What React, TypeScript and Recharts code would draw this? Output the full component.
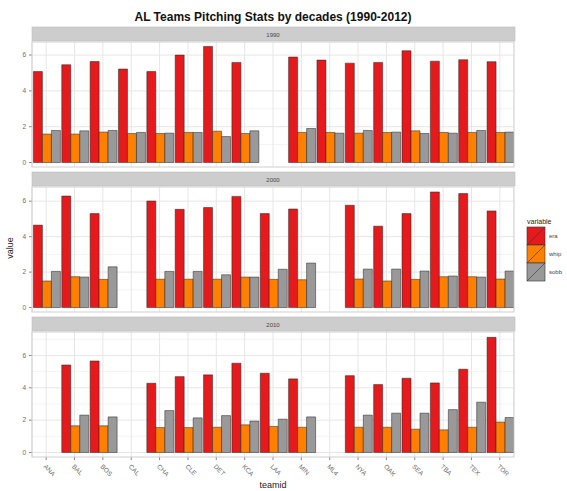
import { BarChart, Bar, XAxis, YAxis, CartesianGrid } from 'recharts';

const teams = ['ANA', 'BAL', 'BOS', 'CAL', 'CHA', 'CLE', 'DET', 'KCA', 'LAA', 'MIN', 'ML4', 'NYA', 'OAK', 'SEA', 'TBA', 'TEX', 'TOR'];

// decade averages per team, null where the team did not play that decade
const era1990 = [5.08, 5.46, 5.64, 5.22, 5.08, 6.0, 6.48, 5.59, null, 5.89, 5.72, 5.55, 5.59, 6.24, 5.66, 5.74, 5.63];
const whip1990 = [1.59, 1.59, 1.7, 1.62, 1.62, 1.68, 1.75, 1.62, null, 1.68, 1.68, 1.64, 1.68, 1.77, 1.68, 1.68, 1.68];
const sobb1990 = [1.79, 1.77, 1.79, 1.68, 1.64, 1.68, 1.45, 1.77, null, 1.9, 1.64, 1.79, 1.7, 1.62, 1.64, 1.79, 1.7];

const era2000 = [4.65, 6.29, 5.3, null, 6.01, 5.54, 5.64, 6.27, 5.3, 5.56, null, 5.77, 4.59, 5.3, 6.52, 6.43, 5.45];
const whip2000 = [1.5, 1.74, 1.59, null, 1.6, 1.6, 1.6, 1.72, 1.59, 1.57, null, 1.61, 1.5, 1.59, 1.74, 1.74, 1.61];
const sobb2000 = [2.04, 1.72, 2.3, null, 2.04, 2.04, 1.85, 1.72, 2.16, 2.51, null, 2.17, 2.17, 2.06, 1.78, 1.72, 2.06];

const era2010 = [null, 5.41, 5.66, null, 4.28, 4.69, 4.8, 5.52, 4.9, 4.55, null, 4.75, 4.2, 4.59, 4.3, 5.15, 7.12];
const whip2010 = [null, 1.65, 1.65, null, 1.54, 1.54, 1.56, 1.71, 1.61, 1.56, null, 1.56, 1.56, 1.44, 1.4, 1.56, 1.88];
const sobb2010 = [null, 2.31, 2.2, null, 2.59, 2.14, 2.28, 1.94, 2.06, 2.2, null, 2.31, 2.43, 2.43, 2.65, 3.11, 2.16];

const variables = ['era', 'whip', 'sobb'];
const yTicks = [0, 2, 4, 6];
const yMinor = [1, 3, 5, 7];

const COLORS = ['#E41A1C', '#FF7F00', '#999999'];
const FONT = '"Liberation Sans", Arial, Helvetica, sans-serif';

const PLOT_LEFT = 32;
const PLOT_RIGHT = 514;
const PLOT_H = 125;
const AXIS_H = 34;

function rows(era: (number | null)[], whip: (number | null)[], sobb: (number | null)[]) {
  return teams.map((team, i) => ({ team, era: era[i], whip: whip[i], sobb: sobb[i] }));
}

const panels = [
  { label: '1990', top: 42, domain: [-0.25, 6.73], data: rows(era1990, whip1990, sobb1990) },
  { label: '2000', top: 187, domain: [-0.25, 6.8], data: rows(era2000, whip2000, sobb2000) },
  { label: '2010', top: 332, domain: [-0.28, 7.45], data: rows(era2010, whip2010, sobb2010) },
];

function TeamTick({ x, y, payload }: any) {
  const tx = x - 3;
  const ty = y + 5;
  return (
    <text x={tx} y={ty} transform={`rotate(45 ${tx} ${ty})`} fontSize={6.5} fill="#6b6b6b" fontFamily={FONT}>
      {payload.value}
    </text>
  );
}

function Panel({ data, domain, top, last }: any) {
  return (
    <div style={{ position: 'absolute', left: 0, top, width: PLOT_RIGHT, height: PLOT_H + (last ? AXIS_H : 0) }}>
      <BarChart
        width={PLOT_RIGHT}
        height={PLOT_H + (last ? AXIS_H : 0)}
        data={data}
        margin={{ top: 0, right: 0, bottom: 0, left: 0 }}
        barCategoryGap="5%"
        barGap={0}
      >
        <CartesianGrid stroke="#f4f4f4" vertical={false} horizontalValues={yMinor} />
        <CartesianGrid stroke="#e6e6e6" horizontalValues={yTicks} />
        <XAxis
          dataKey="team"
          hide={!last}
          height={last ? AXIS_H : 0}
          axisLine={false}
          tickSize={3}
          tickMargin={2}
          tickLine={{ stroke: '#888' }}
          interval={0}
          tick={<TeamTick />}
        />
        <YAxis
          type="number"
          width={PLOT_LEFT}
          domain={domain}
          allowDataOverflow
          ticks={yTicks}
          axisLine={false}
          tickSize={3}
          tickMargin={3}
          tickLine={{ stroke: '#888' }}
          tick={{ fontSize: 6.5, fill: '#6b6b6b', fontFamily: FONT }}
        />
        {variables.map((v, i) => (
          <Bar key={v} dataKey={v} fill={COLORS[i]} stroke="#222" strokeWidth={0.5} isAnimationActive={false} />
        ))}
      </BarChart>
    </div>
  );
}

export default function App() {
  const plotW = PLOT_RIGHT - PLOT_LEFT;
  return (
    <div style={{ position: 'relative', width: 567, height: 491, background: '#fff', fontFamily: FONT }}>
      <style>{'body{margin:0}'}</style>
      {panels.map((p, i) => (
        <Panel key={p.label} data={p.data} domain={p.domain} top={p.top} last={i === panels.length - 1} />
      ))}
      <svg width={567} height={491} style={{ position: 'absolute', left: 0, top: 0, pointerEvents: 'none' }}>
        <text x={PLOT_LEFT + plotW / 2} y={21} textAnchor="middle" fontSize={12} fontWeight="bold" fill="#111" fontFamily={FONT}>
          AL Teams Pitching Stats by decades (1990-2012)
        </text>
        {panels.map((p) => (
          <g key={p.label}>
            <rect x={PLOT_LEFT} y={p.top - 15} width={plotW + 1} height={14} fill="#cdcdcd" stroke="#bdbdbd" strokeWidth={0.6} />
            <text x={PLOT_LEFT + plotW / 2} y={p.top - 5.5} textAnchor="middle" fontSize={6} fill="#444" fontFamily={FONT}>
              {p.label}
            </text>
            <rect x={PLOT_LEFT} y={p.top} width={plotW} height={PLOT_H} fill="none" stroke="#cfcfcf" strokeWidth={1} />
          </g>
        ))}
        <text x={273} y={488} textAnchor="middle" fontSize={9} fill="#222" fontFamily={FONT}>
          teamid
        </text>
        <text x={13} y={248} textAnchor="middle" fontSize={9} fill="#222" fontFamily={FONT} transform="rotate(-90 13 248)">
          value
        </text>
        <text x={527} y={224} fontSize={7} fill="#222" fontFamily={FONT}>
          variable
        </text>
        {variables.map((v, i) => {
          const ky = 227 + i * 18;
          return (
            <g key={v}>
              <rect x={527} y={ky} width={18} height={18} fill={COLORS[i]} stroke="#333" strokeWidth={0.6} />
              <line x1={527} y1={ky + 18} x2={545} y2={ky} stroke="#333" strokeWidth={0.6} />
              <text x={549} y={ky + 11} fontSize={6} fill="#444" fontFamily={FONT}>
                {v}
              </text>
            </g>
          );
        })}
      </svg>
    </div>
  );
}
